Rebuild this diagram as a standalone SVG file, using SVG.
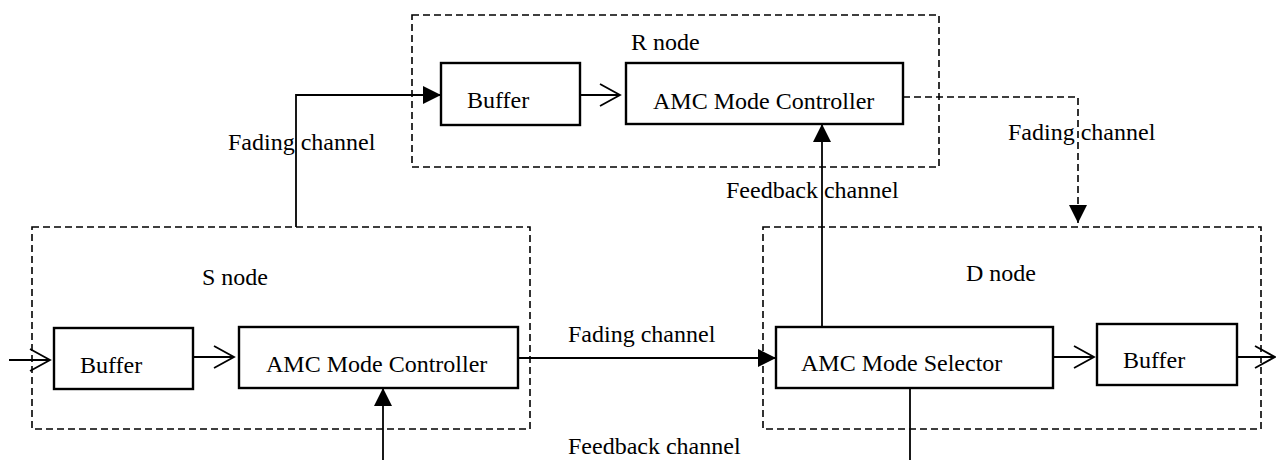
<svg xmlns="http://www.w3.org/2000/svg" width="1276" height="460" viewBox="0 0 1276 460">
<style>
.grp{fill:none;stroke:#000;stroke-width:1.6;stroke-dasharray:7,4}
.box{fill:#fff;stroke:#000;stroke-width:2.4}
.ln{fill:none;stroke:#000;stroke-width:1.8}
.dl{fill:none;stroke:#000;stroke-width:1.6;stroke-dasharray:7,4}
text{font-family:"Liberation Serif","Times New Roman",serif;font-size:24px;fill:#000}
</style>
<defs>
<marker id="fa" markerUnits="userSpaceOnUse" markerWidth="20" markerHeight="20" refX="18" refY="9" orient="auto" overflow="visible">
<path d="M0,0 L18,9 L0,18 Z" fill="#000"/>
</marker>
<marker id="oa" markerUnits="userSpaceOnUse" markerWidth="22" markerHeight="24" refX="20" refY="11" orient="auto" overflow="visible">
<path d="M0,0 L20,11 L0,22" fill="none" stroke="#000" stroke-width="1.8"/>
</marker>
</defs>
<g id="r-node">
<rect class="grp" x="412" y="15" width="527" height="152"/>
<text x="631" y="50">R node</text>
</g>
<g id="s-node">
<rect class="grp" x="32" y="227" width="498" height="202"/>
<text x="202" y="285">S node</text>
</g>
<g id="d-node">
<rect class="grp" x="763" y="227" width="498" height="202"/>
<text x="966" y="281">D node</text>
</g>
<g id="r-buffer">
<rect class="box" x="441" y="63" width="139" height="62"/>
<text x="467" y="108">Buffer</text>
</g>
<g id="r-controller">
<rect class="box" x="626" y="63" width="277" height="61"/>
<text x="653" y="109">AMC Mode Controller</text>
</g>
<g id="s-buffer">
<rect class="box" x="54" y="328" width="139" height="61"/>
<text x="80" y="373">Buffer</text>
</g>
<g id="s-controller">
<rect class="box" x="239" y="327" width="279" height="61"/>
<text x="266" y="372">AMC Mode Controller</text>
</g>
<g id="d-selector">
<rect class="box" x="776" y="327" width="277" height="61"/>
<text x="801" y="371">AMC Mode Selector</text>
</g>
<g id="d-buffer">
<rect class="box" x="1097" y="324" width="140" height="61"/>
<text x="1123" y="368">Buffer</text>
</g>
<g id="connectors">
<path class="ln" d="M296,227 V95 H441" marker-end="url(#fa)"/>
<path class="ln" d="M580,95 H620" marker-end="url(#oa)"/>
<path class="dl" d="M903,97 H1078 V223" marker-end="url(#fa)"/>
<path class="ln" d="M822,327 V124" marker-end="url(#fa)"/>
<path class="ln" d="M9,360 H50" marker-end="url(#oa)"/>
<path class="ln" d="M193,357 H234" marker-end="url(#oa)"/>
<path class="ln" d="M518,358 H776" marker-end="url(#fa)"/>
<path class="ln" d="M383,460 V388" marker-end="url(#fa)"/>
<path class="ln" d="M910,388 V460"/>
<path class="ln" d="M1053,357 H1094" marker-end="url(#oa)"/>
<path class="ln" d="M1237,357 H1275" marker-end="url(#oa)"/>
<text x="228" y="150">Fading channel</text>
<text x="1008" y="140">Fading channel</text>
<text x="726" y="198">Feedback channel</text>
<text x="568" y="342">Fading channel</text>
<text x="568" y="454">Feedback channel</text>
</g>
</svg>
